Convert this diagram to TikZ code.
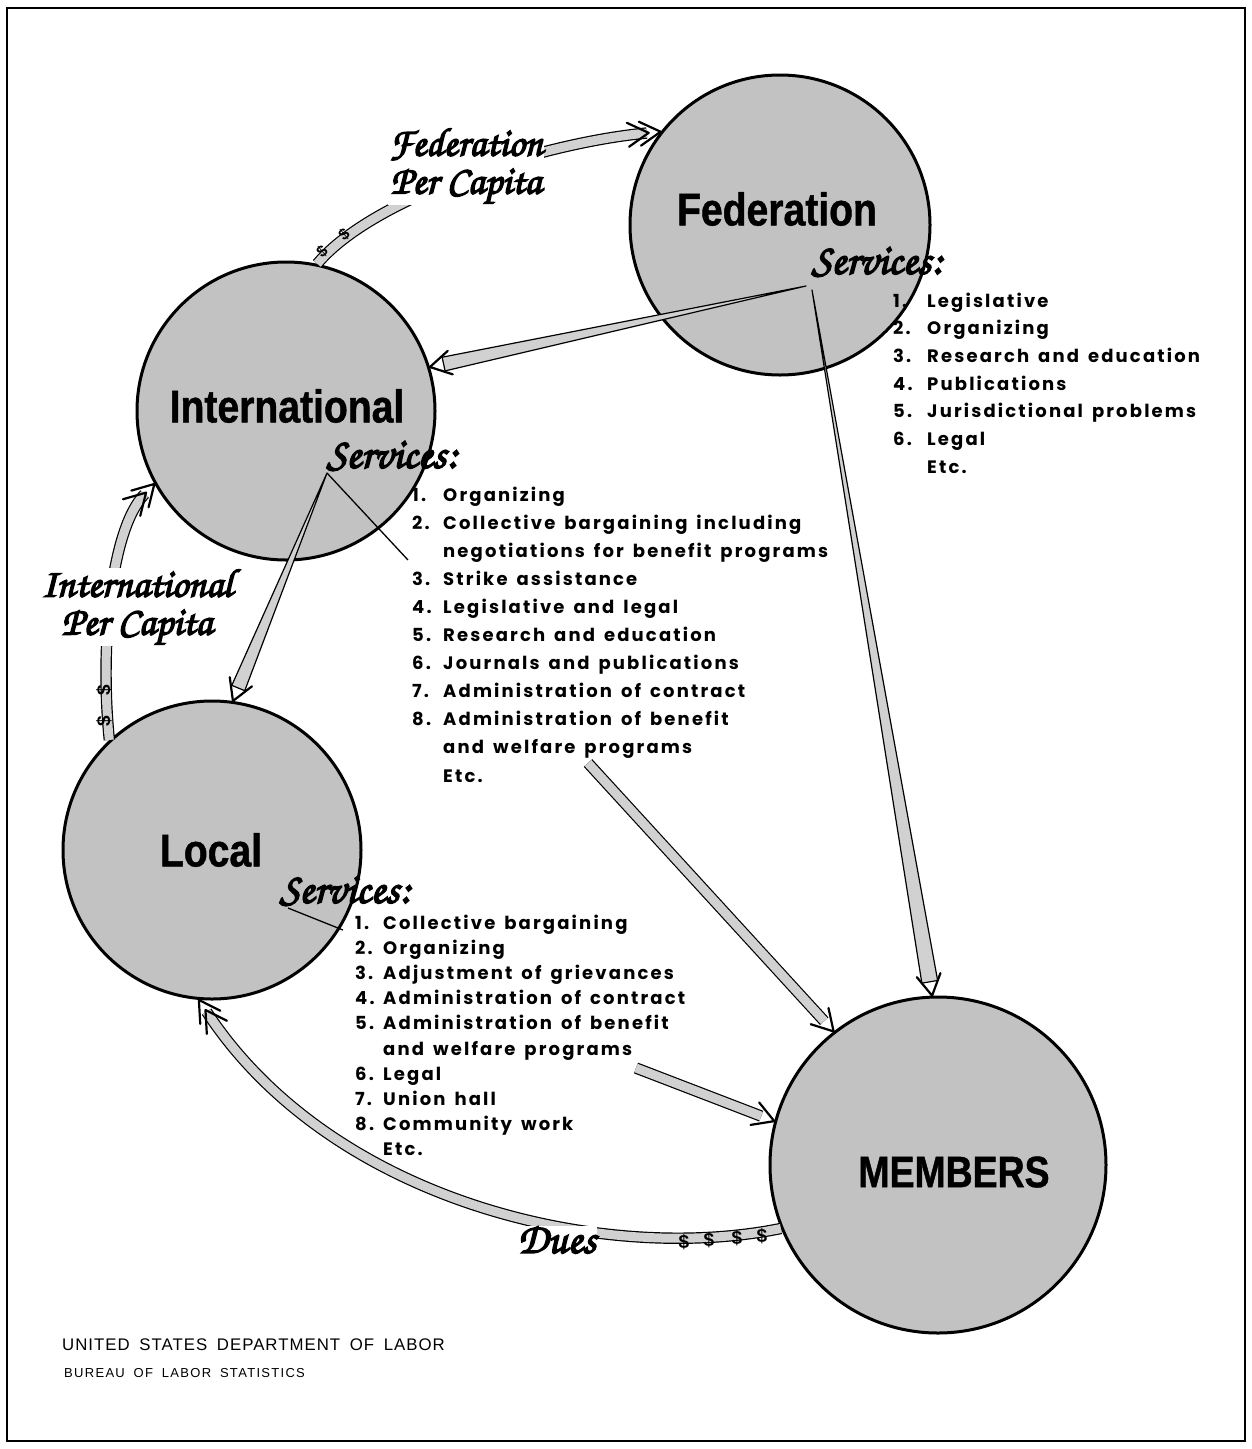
\documentclass[tikz,border=0pt]{standalone}
\usepackage{fontspec}
\usetikzlibrary{calc}
\newfontfamily\headfont[FakeStretch=0.85,FakeBold=1]{Liberation Sans}
\newfontfamily\listfont[LetterSpace=12,WordSpace=1.5]{Poppins}
\newfontfamily\brushfont[FakeBold=3.5]{texgyrechorus-mediumitalic.otf}
\newfontfamily\dollarfont{Liberation Sans}
\newfontfamily\footfont[LetterSpace=6,WordSpace=1.7]{Liberation Sans}
\newfontfamily\footfontb[LetterSpace=10,WordSpace=1.8]{Liberation Sans}
\tikzset{
 disc/.style={circle, draw, line width=3pt, fill=black!24, inner sep=0pt},
 head/.style={font=\headfont\bfseries\fontsize{46}{46}\selectfont, inner sep=0pt},
 headm/.style={font=\headfont\bfseries\fontsize{44}{44}\selectfont, inner sep=0pt},
 brush/.style={font=\brushfont\fontsize{40}{38}\selectfont, inner sep=1pt},
 brushs/.style={font=\brushfont\fontsize{43}{40}\selectfont, inner sep=1pt},
 item/.style={font=\listfont\bfseries\fontsize{18}{20}\selectfont, inner sep=0pt, anchor=base west},
 shaft/.style={double=black!18, double distance=9pt, line width=1.2pt, shorten >=14pt},
 barb/.style={line width=2.2pt, line cap=round, line join=round},
 wedge/.style={fill=black!18, draw, line width=1.2pt, line join=round},
 leader/.style={line width=1.3pt},
 dollar/.style={font=\dollarfont\bfseries\fontsize{19}{19}\selectfont, inner sep=0pt},
 foot/.style={font=\footfont\fontsize{16.8}{18}\selectfont, inner sep=0pt, anchor=base west},
 footb/.style={font=\footfontb\fontsize{13}{15}\selectfont, inner sep=0pt, anchor=base west},
}
\newcommand\vhead[2]{\draw[barb] ($(#2)!24pt!30:(#1)$) -- (#2) -- ($(#2)!24pt!-30:(#1)$);}
\newcommand\vvhead[2]{\vhead{#1}{#2}\coordinate (vvtmp) at ($(#2)!12pt!(#1)$);\vhead{#1}{vvtmp}}
\newcommand\wedgearrow[3]{\coordinate (wb) at ($(#2)!14pt!(#1)$);
 \filldraw[wedge] (#1) -- ($(wb)!#3!90:(#1)$) -- ($(wb)!#3!-90:(#1)$) -- cycle;
 \vhead{#1}{#2}}
\begin{document}
\begin{tikzpicture}[x=1pt,y=-1pt]
\useasboundingbox (0,0) rectangle (1252,1449);
\draw[line width=2.5pt] (7,8) rectangle (1245,1441);

% circles
\node[disc, minimum size=300pt] (fed) at (780,225) {};
\node[disc, minimum size=298pt] (intl) at (286,411) {};
\node[disc, minimum size=298pt] (loc) at (212,850) {};
\node[disc, minimum size=336pt] (mem) at (938,1165) {};

% origins of service arrows
\coordinate (ofed) at (806,286);
\coordinate (ofedb) at (812,290);
\coordinate (ointl) at (327,473);
\coordinate (oloc) at (288,908);
\coordinate (oil) at (588,763);
\coordinate (oll) at (636,1068);

% service arrows
\wedgearrow{ofed}{intl.17}{7pt}
\wedgearrow{ofedb}{mem.92}{8pt}
\wedgearrow{ointl}{loc.82}{7pt}
\draw[leader] (ointl) -- (408,560) coordinate (lint);
\draw[leader] (oloc) -- (343,930) coordinate (lloc);
\draw[shaft] (oil) -- (mem.128); \vhead{oil}{mem.128}
\draw[shaft] (oll) -- (mem.165); \vhead{oll}{mem.165}

% per capita and dues arrows
\coordinate (fc1) at (372,198);
\coordinate (fc2) at (540,143);
\draw[shaft] (intl.78) .. controls (fc1) and (fc2) .. (fed.142);
\vvhead{fc2}{fed.142}
\coordinate (ic1) at (100,650);
\coordinate (ic2) at (110,530);
\draw[shaft] (loc.133) .. controls (ic1) and (ic2) .. (intl.209);
\vvhead{ic2}{intl.209}
\coordinate (dc1) at (600,1265);
\coordinate (dc2) at (330,1200);
\draw[shaft] (mem.202) .. controls (dc1) and (dc2) .. (loc.265);
\vvhead{dc2}{loc.265}

% dollar marks
\node[dollar, rotate=40, font=\dollarfont\bfseries\fontsize{16}{16}\selectfont] (d1) at (322,252) {\$};
\node[dollar, rotate=40, font=\dollarfont\bfseries\fontsize{16}{16}\selectfont] (d2) at (344,235) {\$};
\node[dollar, rotate=90] (d3) at (104,690) {\$};
\node[dollar, rotate=90] (d4) at (104,721) {\$};
\node[dollar] (d5) at (684,1242) {\$};
\node[dollar] (d6) at (709,1240) {\$};
\node[dollar] (d7) at (737,1238) {\$};
\node[dollar] (d8) at (762,1236) {\$};

% labels on arrows
\node[brush, fill=white, align=center] (lfed) at (466,166) {Federation\\Per Capita};
\node[brush, fill=white, align=center] (lintl) at (137,607) {International\\Per Capita};
\node[brushs, fill=white] (ldues) at (557,1240) {Dues};

% titles
\node[head] (tfed) at (777,209) {Federation};
\node[head] (tintl) at (287,406) {International};
\node[head] (tloc) at (211,850) {Local};
\node[headm] (tmem) at (954,1172) {MEMBERS};

\node[brushs] (sfed) at (877,262) {Services:};
\node[brushs] (sintl) at (392,456) {Services:};
\node[brushs] (sloc) at (345,891) {Services:};

% lists
\foreach \n/\t [count=\i from 0] in {1./Legislative, 2./Organizing, 3./Research and education, 4./Publications, 5./Jurisdictional problems, 6./Legal, {}/Etc.}
  \node[item] (fi\i) at (893,{307+27.7*\i}) {\makebox[34pt][l]{\n}\t};
\foreach \n/\t [count=\i from 0] in {1./Organizing, 2./Collective bargaining including, {}/negotiations for benefit programs, 3./Strike assistance, 4./Legislative and legal, 5./Research and education, 6./Journals and publications, 7./Administration of contract, 8./Administration of benefit, {}/and welfare programs, {}/Etc.}
  \node[item] (ii\i) at (412,{501+28.1*\i}) {\makebox[31pt][l]{\n}\t};
\foreach \n/\t [count=\i from 0] in {1./Collective bargaining, 2./Organizing, 3./Adjustment of grievances, 4./Administration of contract, 5./Administration of benefit, {}/and welfare programs, 6./Legal, 7./Union hall, 8./Community work, {}/Etc.}
  \node[item] (li\i) at (355,{929+25.2*\i}) {\makebox[28pt][l]{\n}\t};

% footer
\node[foot] (dol) at (62,1350) {UNITED STATES DEPARTMENT OF LABOR};
\node[footb] (bls) at (64,1377) {BUREAU OF LABOR STATISTICS};
\end{tikzpicture}
\end{document}
